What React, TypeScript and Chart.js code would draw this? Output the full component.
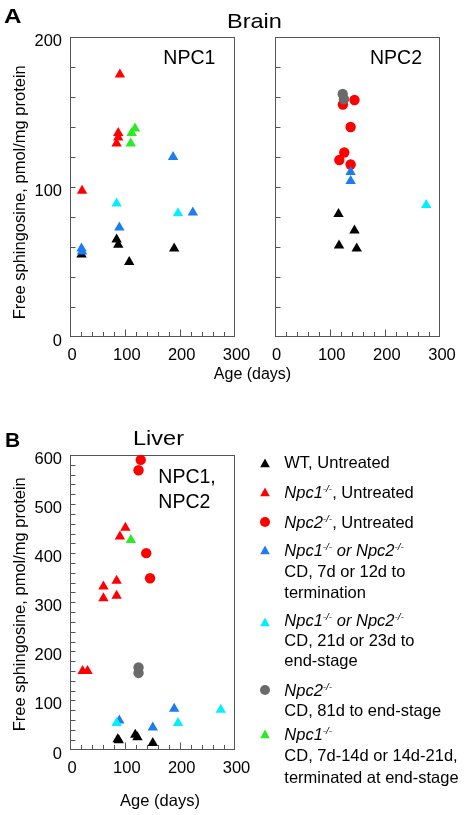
import React, { useEffect, useRef } from 'react';
import { Chart, registerables } from 'chart.js';

Chart.register(...registerables);

const FONT = '"Liberation Sans", Arial, Helvetica, sans-serif';
const W = 464;
const H = 815;

// ---------- data: [age (days), free sphingosine (pmol/mg protein)] ----------
// Brain, NPC1 panel
const brain1Wt: [number, number][] = [[21, 55], [85, 65], [88, 61.5], [108, 50], [190, 59]];
const brain1Npc1: [number, number][] = [[22, 97.5], [91, 175], [88, 136], [88, 133], [85, 129]];
const brain1Cd7: [number, number][] = [[21, 59], [22, 57], [90, 73], [188, 120], [224, 83]];
const brain1Cd21: [number, number][] = [[85, 89], [197, 82.5]];
const brain1CdLong: [number, number][] = [[118.5, 139], [112.5, 136], [110.7, 129]];

// Brain, NPC2 panel
const brain2Wt: [number, number][] = [[116, 82], [145, 71], [117, 61], [149, 59]];
const brain2Npc2: [number, number][] = [[124, 155], [145, 158], [138, 140], [126.5, 123], [117.5, 118], [138, 115]];
const brain2Cd81: [number, number][] = [[123.6, 162], [126, 158.5]];
const brain2Cd7: [number, number][] = [[138, 110], [138, 104]];
const brain2Cd21: [number, number][] = [[275, 88]];

// Liver, NPC1 + NPC2 panel
const liverWt: [number, number][] = [[87, 21], [89, 19], [119, 30], [123, 25], [151, 13]];
const liverNpc1: [number, number][] = [[23, 160], [32, 160], [61, 332], [61, 308], [85, 344], [85, 313], [91, 434], [101, 452]];
const liverNpc2: [number, number][] = [[129, 590], [125, 569], [139, 400], [146, 349]];
const liverCd81: [number, number][] = [[125, 167], [125, 156]];
const liverCd7: [number, number][] = [[90, 59], [151, 45], [190, 83]];
const liverCd21: [number, number][] = [[85, 54], [197, 54], [275, 81]];
const liverCdLong: [number, number][] = [[111, 427]];

// axes
const xMin = 0;
const xMax = 300;
const xStep = 20;
const brainYMax = 200;
const liverYMax = 600;
const yStep = 20;
const labelEvery = 100;

// colours
const C_WT = '#000000';
const C_NPC1 = '#ff0000';
const C_NPC2 = '#ff0000';
const C_CD7 = '#1c7cf0';
const C_CD21 = '#00f0ff';
const C_CD81 = '#6a6a6a';
const C_CDLONG = '#2aea22';
const FRAME = '#555555';

type Series = { pts: [number, number][]; color: string; style: 'triangle' | 'circle' };

type PanelSpec = {
  left: number; right: number; top: number; bottom: number;
  yMax: number; yLabels: boolean; series: Series[];
};

const framePlugin = {
  id: 'frameTicks',
  beforeDatasetsDraw(chart: any) {
    const { ctx, chartArea: a, scales } = chart;
    const L = Math.round(a.left) + 0.5;
    const R = Math.round(a.right) - 0.5;
    const T = Math.round(a.top) + 0.5;
    const B = Math.round(a.bottom) - 0.5;
    ctx.save();
    ctx.strokeStyle = FRAME;
    ctx.lineWidth = 1;
    ctx.strokeRect(L, T, R - L, B - T);
    ctx.beginPath();
    const xs = scales.x;
    for (const t of xs.ticks) {
      if (t.value <= xs.min || t.value >= xs.max) continue;
      const px = Math.round(xs.getPixelForValue(t.value)) + 0.5;
      const len = t.value % labelEvery === 0 ? 7 : 4.5;
      ctx.moveTo(px, B);
      ctx.lineTo(px, B - len);
    }
    const ys = scales.y;
    for (const t of ys.ticks) {
      if (t.value <= ys.min || t.value >= ys.max) continue;
      const py = Math.round(ys.getPixelForValue(t.value)) + 0.5;
      ctx.moveTo(L, py);
      ctx.lineTo(L + 5, py);
    }
    ctx.stroke();
    ctx.restore();
  },
};

function ChartLayer({ spec }: { spec: PanelSpec }) {
  const ref = useRef<HTMLCanvasElement | null>(null);
  useEffect(() => {
    const yW = spec.yLabels ? 50 : 0;
    const xH = 40;
    const n = spec.series.length;
    const chart = new Chart(ref.current as HTMLCanvasElement, {
      type: 'scatter',
      data: {
        datasets: spec.series.map((s, i) => ({
          data: s.pts.map(([x, y]) => ({ x, y })),
          pointStyle: s.style,
          pointRadius: s.style === 'triangle' ? 6 : 5.2,
          backgroundColor: s.color,
          borderColor: s.color,
          borderWidth: 0,
          showLine: false,
          clip: false as any,
          order: n - i,
        })),
      },
      options: {
        animation: false,
        responsive: false,
        events: [],
        layout: {
          padding: {
            left: spec.left - yW,
            right: W - spec.right,
            top: spec.top,
            bottom: H - spec.bottom - xH,
          },
        },
        plugins: { legend: { display: false }, tooltip: { enabled: false }, title: { display: false } },
        scales: {
          x: {
            type: 'linear',
            position: 'bottom',
            min: xMin,
            max: xMax,
            grid: { display: false, drawTicks: false },
            border: { display: false },
            ticks: {
              stepSize: xStep,
              autoSkip: false,
              maxRotation: 0,
              padding: 9,
              labelOffset: 2,
              color: '#000',
              font: { family: FONT, size: 16.5 },
              callback: (v: any) => (Number(v) % labelEvery === 0 ? String(v) : ''),
            },
            afterFit: (s: any) => { s.height = xH; },
          },
          y: {
            type: 'linear',
            position: 'left',
            min: 0,
            max: spec.yMax,
            grid: { display: false, drawTicks: false },
            border: { display: false },
            ticks: {
              display: spec.yLabels,
              stepSize: yStep,
              autoSkip: false,
              padding: 8,
              labelOffset: 4.5,
              color: '#000',
              font: { family: FONT, size: 16.5 },
              callback: (v: any) => (Number(v) % labelEvery === 0 ? String(v) : ''),
            },
            afterFit: (s: any) => { s.width = yW; },
          },
        },
      } as any,
      plugins: [framePlugin],
    });
    return () => chart.destroy();
  }, []);
  return (
    <canvas
      ref={ref}
      width={W}
      height={H}
      style={{ position: 'absolute', left: 0, top: 0, width: W, height: H, pointerEvents: 'none' }}
    />
  );
}

const brain1Spec: PanelSpec = {
  left: 70, right: 234.5, top: 37, bottom: 337, yMax: brainYMax, yLabels: true,
  series: [
    { pts: brain1Wt, color: C_WT, style: 'triangle' },
    { pts: brain1Npc1, color: C_NPC1, style: 'triangle' },
    { pts: brain1Cd7, color: C_CD7, style: 'triangle' },
    { pts: brain1Cd21, color: C_CD21, style: 'triangle' },
    { pts: brain1CdLong, color: C_CDLONG, style: 'triangle' },
  ],
};

const brain2Spec: PanelSpec = {
  left: 274.5, right: 440, top: 37, bottom: 337, yMax: brainYMax, yLabels: false,
  series: [
    { pts: brain2Wt, color: C_WT, style: 'triangle' },
    { pts: brain2Npc2, color: C_NPC2, style: 'circle' },
    { pts: brain2Cd81, color: C_CD81, style: 'circle' },
    { pts: brain2Cd7, color: C_CD7, style: 'triangle' },
    { pts: brain2Cd21, color: C_CD21, style: 'triangle' },
  ],
};

const liverSpec: PanelSpec = {
  left: 70, right: 234.5, top: 455, bottom: 749.5, yMax: liverYMax, yLabels: true,
  series: [
    { pts: liverWt, color: C_WT, style: 'triangle' },
    { pts: liverNpc1, color: C_NPC1, style: 'triangle' },
    { pts: liverNpc2, color: C_NPC2, style: 'circle' },
    { pts: liverCd81, color: C_CD81, style: 'circle' },
    { pts: liverCd7, color: C_CD7, style: 'triangle' },
    { pts: liverCd21, color: C_CD21, style: 'triangle' },
    { pts: liverCdLong, color: C_CDLONG, style: 'triangle' },
  ],
};

// ---------- HTML text helpers ----------
type TxtProps = {
  x: number; base: number; fs: number; children: React.ReactNode;
  bold?: boolean; center?: boolean; sx?: number;
};
function Txt({ x, base, fs, children, bold, center, sx }: TxtProps) {
  const top = base - 0.8465 * fs;
  const width = 400;
  const style: React.CSSProperties = {
    position: 'absolute',
    top,
    left: center ? x - width / 2 : x,
    width: center ? width : undefined,
    textAlign: center ? 'center' : 'left',
    whiteSpace: 'nowrap',
    fontFamily: FONT,
    fontSize: fs,
    lineHeight: 1,
    fontWeight: bold ? 'bold' : 'normal',
    color: '#000',
    transform: sx ? `scaleX(${sx})` : undefined,
    transformOrigin: center ? 'center' : 'left',
  };
  return <div style={style}>{children}</div>;
}

function VTxt({ cx, cy, fs, children }: { cx: number; cy: number; fs: number; children: React.ReactNode }) {
  const w = 320;
  return (
    <div
      style={{
        position: 'absolute', left: cx - w / 2, top: cy - fs / 2, width: w, height: fs,
        textAlign: 'center', fontFamily: FONT, fontSize: fs, lineHeight: 1, whiteSpace: 'nowrap',
        transform: 'rotate(-90deg)', transformOrigin: 'center', color: '#000',
      }}
    >
      {children}
    </div>
  );
}

const Sup = () => (
  <span style={{ fontSize: '0.6em', position: 'relative', top: '-0.6em' }}>-/-</span>
);

function Marker({ cx, cy, color, shape }: { cx: number; cy: number; color: string; shape: 'triangle' | 'circle' }) {
  return (
    <svg width={14} height={14} style={{ position: 'absolute', left: cx - 7, top: cy - 7 }}>
      {shape === 'triangle' ? (
        <polygon points="7,2.6 11.8,11.2 2.2,11.2" fill={color} />
      ) : (
        <circle cx={7} cy={7} r={5} fill={color} />
      )}
    </svg>
  );
}

const LX = 284.3;
const LFS = 16.5;

export default function App() {
  return (
    <div style={{ position: 'absolute', left: 0, top: 0, width: W, height: H, overflow: 'hidden', background: '#fff' }}>
      <ChartLayer spec={brain1Spec} />
      <ChartLayer spec={brain2Spec} />
      <ChartLayer spec={liverSpec} />

      <Txt x={4} base={22.7} fs={21} bold sx={1.15}>A</Txt>
      <Txt x={226.7} base={27.3} fs={21} sx={1.12}>Brain</Txt>
      <Txt x={163.3} base={65} fs={19.5}>NPC1</Txt>
      <Txt x={370} base={65} fs={19.5}>NPC2</Txt>
      <VTxt cx={18.5} cy={192.5} fs={16.5}>Free sphingosine, pmol/mg protein</VTxt>
      <Txt x={252.5} base={379.5} fs={16} center>Age (days)</Txt>

      <Txt x={5} base={446.7} fs={21} bold>B</Txt>
      <Txt x={133.3} base={445} fs={21} sx={1.12}>Liver</Txt>
      <Txt x={158.3} base={484} fs={19.5}>NPC1,</Txt>
      <Txt x={158.3} base={508.3} fs={19.5}>NPC2</Txt>
      <VTxt cx={18.5} cy={604.5} fs={16.5}>Free sphingosine, pmol/mg protein</VTxt>
      <Txt x={160} base={806} fs={16.5} center>Age (days)</Txt>

      {/* legend */}
      <Marker cx={265} cy={462.7} color={C_WT} shape="triangle" />
      <Txt x={LX} base={467.5} fs={LFS}>WT, Untreated</Txt>

      <Marker cx={265} cy={492} color={C_NPC1} shape="triangle" />
      <Txt x={LX} base={497.5} fs={LFS}><i>Npc1<Sup /></i>, Untreated</Txt>

      <Marker cx={265} cy={522} color={C_NPC2} shape="circle" />
      <Txt x={LX} base={527.5} fs={LFS}><i>Npc2<Sup /></i>, Untreated</Txt>

      <Marker cx={265} cy={550.3} color={C_CD7} shape="triangle" />
      <Txt x={LX} base={556} fs={LFS}><i>Npc1<Sup /> or Npc2<Sup /></i></Txt>
      <Txt x={LX} base={577} fs={LFS}>CD, 7d or 12d to</Txt>
      <Txt x={LX} base={597.5} fs={LFS}>termination</Txt>

      <Marker cx={265} cy={621.7} color={C_CD21} shape="triangle" />
      <Txt x={LX} base={626} fs={LFS}><i>Npc1<Sup /> or Npc2<Sup /></i></Txt>
      <Txt x={LX} base={646} fs={LFS}>CD, 21d or 23d to</Txt>
      <Txt x={LX} base={666} fs={LFS}>end-stage</Txt>

      <Marker cx={265} cy={690} color={C_CD81} shape="circle" />
      <Txt x={LX} base={696} fs={LFS}><i>Npc2<Sup /></i></Txt>
      <Txt x={LX} base={716} fs={LFS}>CD, 81d to end-stage</Txt>

      <Marker cx={265} cy={733.5} color={C_CDLONG} shape="triangle" />
      <Txt x={LX} base={739.5} fs={LFS}><i>Npc1<Sup /></i></Txt>
      <Txt x={LX} base={761} fs={LFS}>CD, 7d-14d or 14d-21d,</Txt>
      <Txt x={LX} base={782.5} fs={LFS}>terminated at end-stage</Txt>
    </div>
  );
}
